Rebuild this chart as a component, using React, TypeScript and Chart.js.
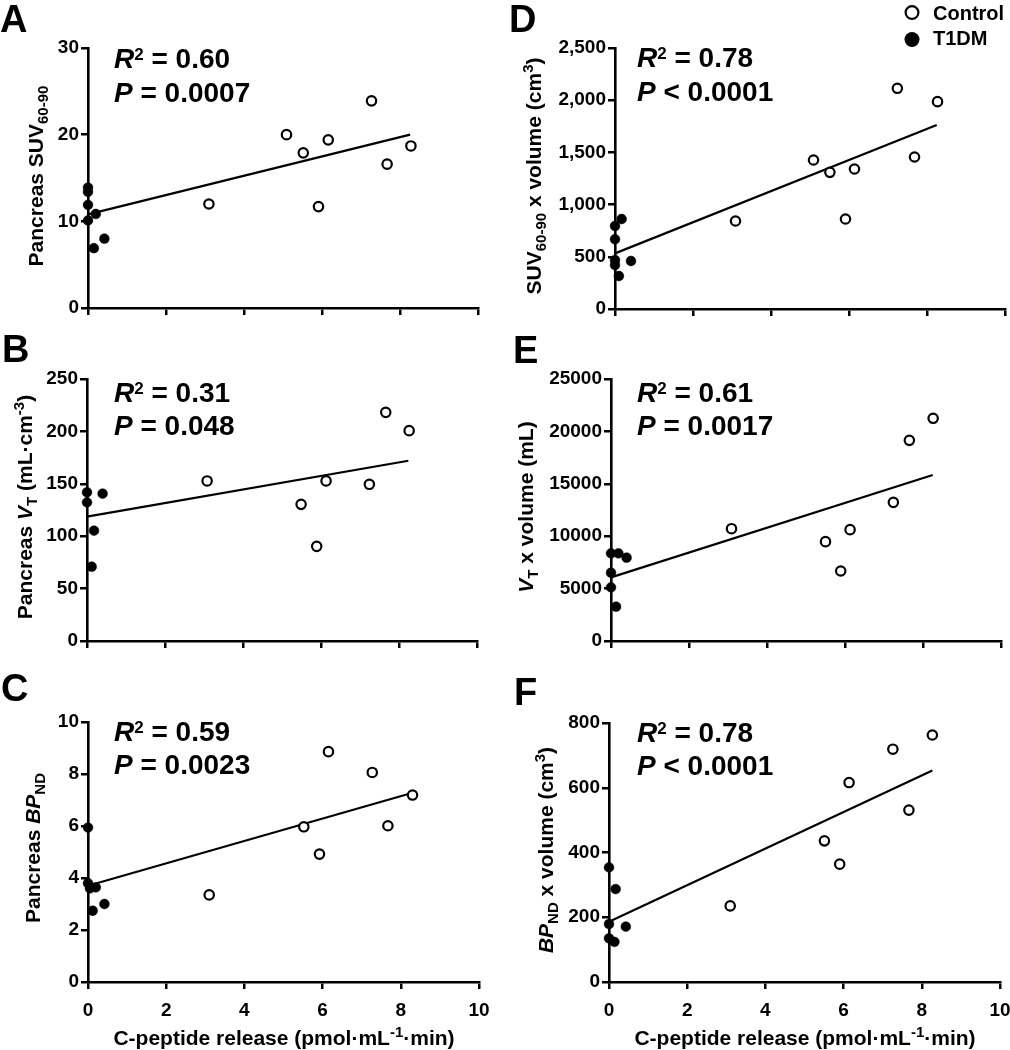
import React, { useEffect, useRef } from "react";
import { Chart, registerables } from "chart.js";

Chart.register(...registerables);

const FONT = "'Liberation Sans', Arial, Helvetica, sans-serif";

// ---------- shared x axis ----------
const X_MIN = 0;
const X_MAX = 10;
const X_STEP = 2;
const X_TITLE = ["C-peptide release (pmol·mL", "-1", "·min)"];

// ---------- Panel A: Pancreas SUV60-90 ----------
const aControlX = [3.1, 5.09, 5.52, 5.91, 6.16, 7.27, 7.67, 8.28];
const aControlY = [12.0, 20.0, 17.9, 11.7, 19.4, 23.9, 16.6, 18.7];
const aT1dmX = [0, 0, 0, 0, 0.2, 0.15, 0.42];
const aT1dmY = [13.9, 13.4, 11.9, 10.1, 10.85, 6.9, 8.0];
const aFitX = [0, 8.26];
const aFitY = [10.8, 20.0];
const aYTicks = [0, 10, 20, 30];

// ---------- Panel B: Pancreas VT ----------
const bControlX = [3.08, 5.49, 5.89, 6.13, 7.24, 7.66, 8.26];
const bControlY = [152.7, 130.4, 90.3, 152.7, 149.5, 218.2, 200.7];
const bT1dmX = [0, 0, 0.4, 0.18, 0.12];
const bT1dmY = [141.9, 132.3, 140.6, 105.3, 70.9];
const bFitX = [0, 8.24];
const bFitY = [118.6, 172];
const bYTicks = [0, 50, 100, 150, 200, 250];

// ---------- Panel C: Pancreas BPND ----------
const cControlX = [3.1, 5.52, 5.92, 6.15, 7.27, 7.67, 8.3];
const cControlY = [3.35, 5.97, 4.92, 8.86, 8.06, 6.01, 7.19];
const cT1dmX = [0, 0, 0.05, 0.2, 0.42, 0.12];
const cT1dmY = [5.94, 3.8, 3.6, 3.64, 3.0, 2.74];
const cFitX = [0, 8.26];
const cFitY = [3.7, 7.26];
const cYTicks = [0, 2, 4, 6, 8, 10];

// ---------- Panel D: SUV60-90 x volume ----------
const dControlX = [3.09, 5.09, 5.51, 5.91, 6.14, 7.24, 7.68, 8.27];
const dControlY = [843, 1427, 1309, 862, 1341, 2114, 1456, 1986];
const dT1dmX = [0.17, 0, 0, 0, 0, 0.1, 0.41];
const dT1dmY = [862, 795, 668, 469, 421, 316, 460];
const dFitX = [0, 8.25];
const dFitY = [533, 1763];
const dYTicks = [0, 500, 1000, 1500, 2000, 2500];

// ---------- Panel E: VT x volume ----------
const eControlX = [3.09, 5.5, 5.89, 6.13, 7.24, 7.65, 8.26];
const eControlY = [10718, 9478, 6679, 10623, 13231, 19148, 21248];
const eT1dmX = [0, 0.19, 0.4, 0, 0, 0.13];
const eT1dmY = [8364, 8364, 7950, 6520, 5120, 3275];
const eFitX = [0, 8.25];
const eFitY = [6075, 15840];
const eYTicks = [0, 5000, 10000, 15000, 20000, 25000];

// ---------- Panel F: BPND x volume ----------
const fControlX = [3.1, 5.51, 5.9, 6.14, 7.26, 7.67, 8.27];
const fControlY = [235, 436, 364, 616, 719, 531, 763];
const fT1dmX = [0, 0.17, 0, 0.43, 0, 0.14];
const fT1dmY = [354, 287, 179, 171, 135, 124];
const fFitX = [0, 8.27];
const fFitY = [186, 653];
const fYTicks = [0, 200, 400, 600, 800];

// ---------- stats text ----------
const r2Values = ["0.60", "0.31", "0.59", "0.78", "0.61", "0.78"];
const pValues = ["= 0.0007", "= 0.048", "= 0.0023", "< 0.0001", "= 0.0017", "< 0.0001"];
const legendLabels = ["Control", "T1DM"];

type Seg = { t: string; i?: boolean; sub?: boolean; sup?: boolean };

interface PanelDef {
  letter: string;
  letterPos: [number, number];
  box: { x: number; y: number; w: number; h: number };
  area: { l: number; t: number; r: number; b: number };
  yTicks: number[];
  yFmt: (v: number) => string;
  cx: number[]; cy: number[];
  tx: number[]; ty: number[];
  fx: number[]; fy: number[];
  xLabels: boolean;
  r2: string; p: string;
  statsX: number; statsY: [number, number];
  yTitle: Seg[]; yTitlePos: [number, number];
  xTitlePos?: [number, number];
  legend?: boolean;
}

const plain = (v: number) => String(v);
const comma = (v: number) => v.toLocaleString("en-US");

const panels: PanelDef[] = [
  {
    letter: "A", letterPos: [0, 32],
    box: { x: 0, y: 0, w: 505, h: 330 }, area: { l: 88, t: 48, r: 478, b: 308 },
    yTicks: aYTicks, yFmt: plain,
    cx: aControlX, cy: aControlY, tx: aT1dmX, ty: aT1dmY, fx: aFitX, fy: aFitY,
    xLabels: false, r2: r2Values[0], p: pValues[0], statsX: 114, statsY: [68, 102],
    yTitle: [{ t: "Pancreas SUV" }, { t: "60-90", sub: true }], yTitlePos: [43, 176],
  },
  {
    letter: "B", letterPos: [2, 362],
    box: { x: 0, y: 330, w: 505, h: 340 }, area: { l: 87, t: 379, r: 477, b: 641 },
    yTicks: bYTicks, yFmt: plain,
    cx: bControlX, cy: bControlY, tx: bT1dmX, ty: bT1dmY, fx: bFitX, fy: bFitY,
    xLabels: false, r2: r2Values[1], p: pValues[1], statsX: 114, statsY: [402, 435],
    yTitle: [{ t: "Pancreas " }, { t: "V", i: true }, { t: "T", sub: true }, { t: " (mL·cm" }, { t: "-3", sup: true }, { t: ")" }],
    yTitlePos: [32, 507],
  },
  {
    letter: "C", letterPos: [1, 701],
    box: { x: 0, y: 670, w: 505, h: 380 }, area: { l: 88, t: 722, r: 479, b: 982 },
    yTicks: cYTicks, yFmt: plain,
    cx: cControlX, cy: cControlY, tx: cT1dmX, ty: cT1dmY, fx: cFitX, fy: cFitY,
    xLabels: true, r2: r2Values[2], p: pValues[2], statsX: 114, statsY: [741, 774],
    yTitle: [{ t: "Pancreas " }, { t: "BP", i: true }, { t: "ND", sub: true }], yTitlePos: [40, 848],
    xTitlePos: [284, 1045],
  },
  {
    letter: "D", letterPos: [509, 32],
    box: { x: 505, y: 0, w: 540, h: 330 }, area: { l: 615, t: 48, r: 1005, b: 309 },
    yTicks: dYTicks, yFmt: comma,
    cx: dControlX, cy: dControlY, tx: dT1dmX, ty: dT1dmY, fx: dFitX, fy: dFitY,
    xLabels: false, r2: r2Values[3], p: pValues[3], statsX: 637, statsY: [67, 101],
    yTitle: [{ t: "SUV" }, { t: "60-90", sub: true }, { t: " x volume (cm" }, { t: "3", sup: true }, { t: ")" }],
    yTitlePos: [541, 176], legend: true,
  },
  {
    letter: "E", letterPos: [513, 363],
    box: { x: 505, y: 330, w: 540, h: 340 }, area: { l: 611, t: 379, r: 1001, b: 641 },
    yTicks: eYTicks, yFmt: plain,
    cx: eControlX, cy: eControlY, tx: eT1dmX, ty: eT1dmY, fx: eFitX, fy: eFitY,
    xLabels: false, r2: r2Values[4], p: pValues[4], statsX: 637, statsY: [402, 435],
    yTitle: [{ t: "V", i: true }, { t: "T", sub: true }, { t: " x volume (mL)" }], yTitlePos: [533, 507],
  },
  {
    letter: "F", letterPos: [514, 705],
    box: { x: 505, y: 670, w: 540, h: 380 }, area: { l: 609, t: 723, r: 1000, b: 982 },
    yTicks: fYTicks, yFmt: plain,
    cx: fControlX, cy: fControlY, tx: fT1dmX, ty: fT1dmY, fx: fFitX, fy: fFitY,
    xLabels: true, r2: r2Values[5], p: pValues[5], statsX: 637, statsY: [742, 775],
    yTitle: [{ t: "BP", i: true }, { t: "ND", sub: true }, { t: " x volume (cm" }, { t: "3", sup: true }, { t: ")" }],
    yTitlePos: [553, 850], xTitlePos: [805, 1045],
  },
];

function zip(xs: number[], ys: number[]) {
  return xs.map((x, i) => ({ x, y: ys[i] }));
}

function drawRich(
  ctx: CanvasRenderingContext2D, segs: Seg[], x: number, y: number, size: number,
  center: boolean, smallScale = 0.7, supRaise = 0.38, subDrop = 0.2
) {
  const fontFor = (s: Seg) =>
    `${s.i ? "italic " : ""}bold ${s.sub || s.sup ? Math.round(size * smallScale) : size}px ${FONT}`;
  let total = 0;
  for (const s of segs) {
    ctx.font = fontFor(s);
    total += ctx.measureText(s.t).width;
  }
  let cx = center ? x - total / 2 : x;
  for (const s of segs) {
    ctx.font = fontFor(s);
    const dy = s.sub ? size * subDrop : s.sup ? -size * supRaise : 0;
    ctx.fillText(s.t, cx, y + dy);
    cx += ctx.measureText(s.t).width;
  }
}

function decorPlugin(p: PanelDef) {
  return {
    id: "decor" + p.letter,
    afterDraw(chart: Chart) {
      const ctx = chart.ctx;
      const ox = p.box.x;
      const oy = p.box.y;
      ctx.save();
      ctx.fillStyle = "#000";
      ctx.textAlign = "left";
      ctx.textBaseline = "alphabetic";
      // panel letter
      ctx.font = `bold 38px ${FONT}`;
      ctx.fillText(p.letter, p.letterPos[0] - ox, p.letterPos[1] - oy);
      // stats
      drawRich(ctx, [{ t: "R", i: true }, { t: "2", sup: true }, { t: " = " + p.r2 }],
        p.statsX - ox, p.statsY[0] - oy, 28, false, 0.6, 0.3);
      drawRich(ctx, [{ t: "P", i: true }, { t: " " + p.p }], p.statsX - ox, p.statsY[1] - oy, 28, false);
      // y title
      ctx.save();
      ctx.translate(p.yTitlePos[0] - ox, p.yTitlePos[1] - oy);
      ctx.rotate(-Math.PI / 2);
      drawRich(ctx, p.yTitle, 0, 0, 21, true, 0.7, 0.38, 0.22);
      ctx.restore();
      // x title
      if (p.xTitlePos) {
        drawRich(ctx, [{ t: X_TITLE[0] }, { t: X_TITLE[1], sup: true }, { t: X_TITLE[2] }],
          p.xTitlePos[0] - ox, p.xTitlePos[1] - oy, 21, true, 0.7, 0.38);
      }
      // legend
      if (p.legend) {
        ctx.beginPath();
        ctx.arc(912 - ox, 12.5 - oy, 6.4, 0, Math.PI * 2);
        ctx.fillStyle = "#fff";
        ctx.fill();
        ctx.lineWidth = 2.2;
        ctx.strokeStyle = "#000";
        ctx.stroke();
        ctx.beginPath();
        ctx.arc(912 - ox, 39.5 - oy, 7.5, 0, Math.PI * 2);
        ctx.fillStyle = "#000";
        ctx.fill();
        ctx.font = `bold 20px ${FONT}`;
        ctx.fillText(legendLabels[0], 933 - ox, 20 - oy);
        ctx.fillText(legendLabels[1], 933 - ox, 45 - oy);
      }
      ctx.restore();
    },
  };
}

function Panel({ p }: { p: PanelDef }) {
  const ref = useRef<HTMLCanvasElement | null>(null);
  useEffect(() => {
    const canvas = ref.current;
    if (!canvas) return;
    const { box, area } = p;
    const yMax = p.yTicks[p.yTicks.length - 1];
    const yStep = p.yTicks[1] - p.yTicks[0];
    const axisGrid = {
      display: true,
      drawOnChartArea: false,
      drawTicks: true,
      tickLength: 7,
      color: "#000",
      lineWidth: 2.5,
    };
    const axisBorder = { display: true, color: "#000", width: 2.6 };
    const tickFont = { family: FONT, size: 19, weight: "bold" as const };
    const chart = new Chart(canvas, {
      type: "scatter",
      data: {
        datasets: [
          {
            label: legendLabels[0],
            data: zip(p.cx, p.cy),
            pointRadius: 4.7,
            pointBorderWidth: 2.2,
            pointBackgroundColor: "#fff",
            pointBorderColor: "#000",
            backgroundColor: "#fff",
            borderColor: "#000",
            clip: false,
            order: 0,
          },
          {
            label: legendLabels[1],
            data: zip(p.tx, p.ty),
            pointRadius: 4.9,
            pointBorderWidth: 0.5,
            pointBackgroundColor: "#000",
            pointBorderColor: "#000",
            backgroundColor: "#000",
            borderColor: "#000",
            clip: false,
            order: 0,
          },
          {
            label: "fit",
            data: zip(p.fx, p.fy),
            showLine: true,
            pointRadius: 0,
            borderWidth: 2.2,
            borderColor: "#000",
            clip: false,
            order: 1,
          },
        ],
      },
      options: {
        responsive: false,
        animation: false,
        events: [],
        layout: {
          autoPadding: false,
          padding: { left: 0, top: area.t - box.y, right: box.x + box.w - area.r, bottom: 0 },
        },
        plugins: { legend: { display: false }, tooltip: { enabled: false } },
        scales: {
          x: {
            type: "linear",
            min: X_MIN,
            max: X_MAX,
            ticks: { stepSize: X_STEP, display: p.xLabels, color: "#000", font: tickFont, padding: 10 },
            grid: axisGrid,
            border: axisBorder,
            afterFit: (s: any) => {
              s.height = box.y + box.h - area.b;
            },
          },
          y: {
            type: "linear",
            min: 0,
            max: yMax,
            ticks: {
              stepSize: yStep,
              color: "#000",
              font: tickFont,
              padding: 2,
              callback: (v: any) => p.yFmt(Number(v)),
            },
            grid: axisGrid,
            border: axisBorder,
            afterFit: (s: any) => {
              s.width = area.l - box.x;
            },
          },
        },
      } as any,
      plugins: [decorPlugin(p)],
    });
    return () => chart.destroy();
  }, [p]);
  return (
    <canvas
      ref={ref}
      width={p.box.w}
      height={p.box.h}
      style={{
        position: "absolute",
        left: p.box.x,
        top: p.box.y,
        width: p.box.w,
        height: p.box.h,
      }}
    />
  );
}

export default function App() {
  return (
    <div
      style={{
        position: "absolute",
        left: 0,
        top: 0,
        width: 1010,
        height: 1050,
        overflow: "hidden",
        background: "#fff",
      }}
    >
      {panels.map((p) => (
        <Panel key={p.letter} p={p} />
      ))}
    </div>
  );
}
